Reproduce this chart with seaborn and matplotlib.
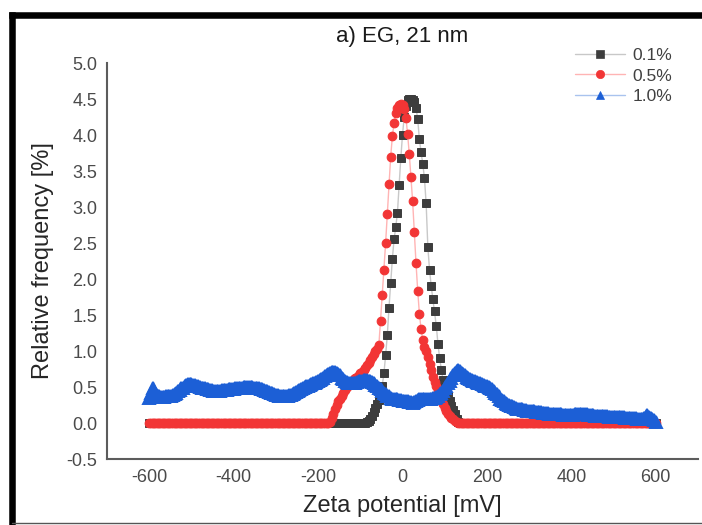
import numpy as np
import matplotlib
matplotlib.use('Agg')
import matplotlib.pyplot as plt
import seaborn as sns

# Zeta potential bins (mV), 4 mV apart
zeta = np.arange(-600, 601, 4)

# 0.1 % : non-zero part from -88 to 136 mV, 0 elsewhere
peak_01 = [0.00, 0.01, 0.03, 0.06, 0.10, 0.15, 0.21, 0.27, 0.32, 0.37,
           0.52, 0.69, 0.94, 1.22, 1.60, 1.95, 2.28, 2.55, 2.72, 2.92,
           3.30, 3.68, 4.00, 4.25, 4.40, 4.48, 4.50, 4.50, 4.49, 4.46,
           4.38, 4.22, 3.94, 3.76, 3.60, 3.40, 3.05, 2.45, 2.13, 1.90,
           1.72, 1.55, 1.35, 1.10, 0.90, 0.74, 0.60, 0.50, 0.43, 0.37,
           0.31, 0.24, 0.18, 0.12, 0.06, 0.02, 0.00]
range_01 = (-88, 136)

# 0.5 % : non-zero part from -172 to 128 mV, 0 elsewhere
peak_05 = [0.02, 0.07, 0.13, 0.19, 0.25, 0.30, 0.34, 0.38, 0.42, 0.46,
           0.50, 0.54, 0.57, 0.59, 0.61, 0.62, 0.64, 0.66, 0.69, 0.71,
           0.74, 0.77, 0.80, 0.84, 0.88, 0.92, 0.96, 1.00, 1.03, 1.08,
           1.42, 1.78, 2.13, 2.50, 2.90, 3.32, 3.70, 3.98, 4.17, 4.30,
           4.38, 4.42, 4.43, 4.42, 4.36, 4.24, 4.02, 3.74, 3.42, 3.08,
           2.65, 2.22, 1.84, 1.52, 1.30, 1.15, 1.06, 1.00, 0.91, 0.82,
           0.73, 0.64, 0.57, 0.51, 0.45, 0.38, 0.32, 0.26, 0.21, 0.16,
           0.13, 0.10, 0.07, 0.05, 0.03, 0.01]
range_05 = (-172, 128)

# 1.0 % : whole range -600 ... 600 mV
freq_10 = [0.35, 0.42, 0.48, 0.44, 0.40, 0.38, 0.37, 0.36, 0.36, 0.36,
           0.37, 0.37, 0.38, 0.38, 0.39, 0.40, 0.42, 0.44, 0.46, 0.48,
           0.49, 0.51, 0.53, 0.54, 0.54, 0.54, 0.53, 0.53, 0.52, 0.51,
           0.50, 0.49, 0.49, 0.48, 0.47, 0.47, 0.46, 0.46, 0.45, 0.45,
           0.45, 0.45, 0.45, 0.46, 0.46, 0.46, 0.46, 0.47, 0.47, 0.47,
           0.47, 0.48, 0.48, 0.48, 0.49, 0.49, 0.50, 0.50, 0.50, 0.50,
           0.50, 0.50, 0.49, 0.49, 0.48, 0.48, 0.47, 0.47, 0.46, 0.45,
           0.44, 0.43, 0.42, 0.41, 0.40, 0.39, 0.39, 0.38, 0.38, 0.38,
           0.38, 0.38, 0.38, 0.39, 0.39, 0.40, 0.42, 0.43, 0.45, 0.46,
           0.47, 0.48, 0.50, 0.51, 0.52, 0.53, 0.54, 0.55, 0.56, 0.57,
           0.58, 0.60, 0.61, 0.63, 0.65, 0.67, 0.68, 0.70, 0.71, 0.71,
           0.71, 0.70, 0.68, 0.66, 0.63, 0.61, 0.59, 0.57, 0.56, 0.55,
           0.55, 0.55, 0.56, 0.57, 0.58, 0.59, 0.59, 0.60, 0.60, 0.60,
           0.59, 0.58, 0.57, 0.55, 0.53, 0.51, 0.49, 0.47, 0.45, 0.42,
           0.40, 0.38, 0.37, 0.35, 0.34, 0.34, 0.33, 0.33, 0.32, 0.32,
           0.31, 0.31, 0.30, 0.30, 0.29, 0.29, 0.28, 0.29, 0.31, 0.32,
           0.33, 0.34, 0.34, 0.34, 0.34, 0.34, 0.34, 0.34, 0.35, 0.35,
           0.36, 0.38, 0.40, 0.42, 0.45, 0.48, 0.52, 0.56, 0.59, 0.63,
           0.66, 0.69, 0.72, 0.73, 0.72, 0.70, 0.68, 0.66, 0.64, 0.63,
           0.61, 0.60, 0.59, 0.58, 0.57, 0.56, 0.55, 0.54, 0.53, 0.52,
           0.51, 0.50, 0.49, 0.47, 0.45, 0.42, 0.40, 0.37, 0.34, 0.32,
           0.30, 0.28, 0.26, 0.25, 0.24, 0.23, 0.22, 0.21, 0.20, 0.20,
           0.19, 0.19, 0.18, 0.18, 0.17, 0.17, 0.16, 0.16, 0.16, 0.15,
           0.15, 0.15, 0.15, 0.14, 0.14, 0.14, 0.14, 0.13, 0.13, 0.13,
           0.13, 0.12, 0.12, 0.12, 0.12, 0.11, 0.11, 0.11, 0.11, 0.11,
           0.11, 0.11, 0.12, 0.12, 0.12, 0.12, 0.12, 0.12, 0.12, 0.12,
           0.11, 0.11, 0.11, 0.11, 0.10, 0.10, 0.10, 0.10, 0.10, 0.10,
           0.10, 0.10, 0.09, 0.09, 0.09, 0.09, 0.09, 0.08, 0.08, 0.08,
           0.08, 0.08, 0.07, 0.07, 0.07, 0.07, 0.07, 0.07, 0.07, 0.06,
           0.06, 0.06, 0.06, 0.07, 0.08, 0.11, 0.09, 0.07, 0.05, 0.04,
           0.02]

labels = ['0.1%', '0.5%', '1.0%']


def pad_zeros(peak, xr):
    y = np.zeros(len(zeta))
    y[(zeta >= xr[0]) & (zeta <= xr[1])] = peak
    return y


freq_01 = pad_zeros(peak_01, range_01)
freq_05 = pad_zeros(peak_05, range_05)

sns.set_style('white')
plt.rcParams['font.family'] = ['Liberation Sans', 'DejaVu Sans']
plt.rcParams['axes.unicode_minus'] = False

fig = plt.figure(figsize=(7.02, 5.25), dpi=100)
ax = fig.add_axes([107/702, 1-459/525, (698-107)/702, (459-63)/525])

# series: (values, line colour, marker, marker colour, marker size, edge width)
styles = [
    (freq_01, '#c8c8c8', 's', '#3d3d3d', 5.4, 0.7),
    (freq_05, '#ffb4b4', 'o', '#f23535', 6.2, 0.8),
    (freq_10, '#a9c3ee', '^', '#1c5fd6', 8.0, 1.4),
]
for (vals, lc, mk, mc, ms, mew), lab in zip(styles, labels):
    sns.lineplot(x=zeta, y=vals, ax=ax, estimator=None, color=lc, linewidth=1,
                 marker=mk, markersize=ms, markerfacecolor=mc,
                 markeredgecolor=mc, markeredgewidth=mew, label=lab)

ax.set_xlim(-700, 700)
ax.set_ylim(-0.5, 5.0)
ax.set_xticks(np.arange(-600, 601, 200))
ax.set_yticks(np.arange(-0.5, 5.01, 0.5))
ax.yaxis.set_major_formatter(matplotlib.ticker.FormatStrFormatter('%.1f'))
ax.tick_params(length=0, pad=7, labelsize=13, colors='#4a4a4a')

for s in ['top', 'right']:
    ax.spines[s].set_visible(False)
for s in ['left', 'bottom']:
    ax.spines[s].set_color('#5c5c5c')
    ax.spines[s].set_linewidth(1.5)

ax.set_title('a) EG, 21 nm', fontsize=16, pad=15, color='#1a1a1a')
ax.set_xlabel('Zeta potential [mV]', fontsize=17, labelpad=7, color='#262626')
ax.set_ylabel('Relative frequency [%]', fontsize=17, labelpad=9, color='#262626')

leg = ax.legend(loc='upper left', bbox_to_anchor=(575/702, 1-48/525),
                bbox_transform=fig.transFigure, frameon=False, fontsize=12.5,
                handlelength=2.9, handletextpad=0.4, labelspacing=0.3,
                borderpad=0, borderaxespad=0)
for t in leg.get_texts():
    t.set_color('#404040')
# legend markers all about the same size, as in the original
for h in leg.legend_handles:
    h.set_markersize(6.0)
    h.set_markeredgewidth(0.5)

# outer picture frame
fig.add_artist(plt.Line2D([11.7/702, 11.7/702], [1-15/525, 1-523/525],
                          transform=fig.transFigure, color='black', lw=4.7,
                          solid_capstyle='projecting'))
fig.add_artist(plt.Line2D([11.7/702, 1.0], [1-15/525, 1-15/525],
                          transform=fig.transFigure, color='black', lw=4.7,
                          solid_capstyle='projecting'))
fig.add_artist(plt.Line2D([11.7/702, 1.0], [1-523/525, 1-523/525],
                          transform=fig.transFigure, color='#555555', lw=1))

fig.savefig('out.png', dpi=100)
